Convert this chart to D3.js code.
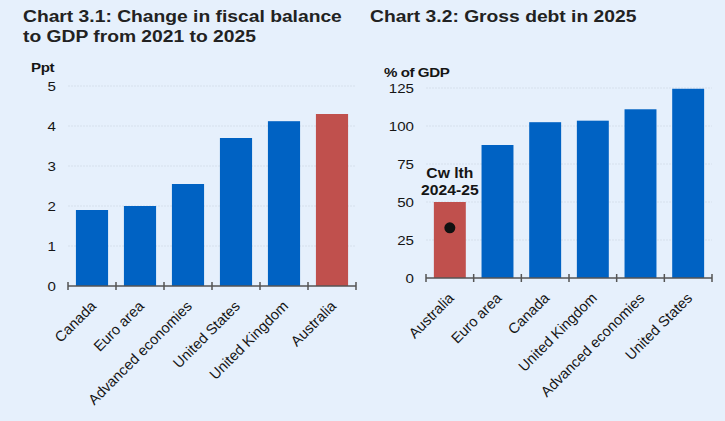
<!DOCTYPE html>
<html lang="en">
<head>
    <meta charset="UTF-8">
    <title>Fiscal balance and gross debt</title>
    <style>
        body { margin: 0; background: #e6f0fc; }
        svg { display: block; font-family: "Liberation Sans", Arial, sans-serif; }
    </style>
</head>
<body>
    <svg id="container" width="725" height="421"></svg>

<script src="https://cdn.jsdelivr.net/npm/d3@7/dist/d3.min.js"></script>
<script>
    // chart 3.1 data
    let fiscalCats = ["Canada", "Euro area", "Advanced economies", "United States", "United Kingdom", "Australia"]
    let fiscalVals = [1.9, 2.0, 2.55, 3.7, 4.12, 4.3]
    let fiscalTicks = [0, 1, 2, 3, 4, 5]

    // chart 3.2 data
    let debtCats = ["Australia", "Euro area", "Canada", "United Kingdom", "Advanced economies", "United States"]
    let debtVals = [50, 87.5, 102.5, 103.5, 111, 124.5]
    let debtTicks = [0, 25, 50, 75, 100, 125]
    let cwlthVal = 33

    let blue = "#0062c3"
    let red = "#c0504d"
    let ink = "#151515"
    let stretch = 1.12   // source text is a bit wide
    let svg = d3.select("#container")

    // text placed at a point, widened horizontally around that point
    function wideText(sel, xf, yf) {
        return sel.attr("transform", (d, i) => `translate(${xf(d, i)},${yf(d, i)}) scale(${stretch},1)`)
    }

    function drawChart(opt) {
        let g = svg.append("g")

        let x = d3.scaleBand()
            .domain(opt.cats)
            .range(opt.xRange)
            .paddingInner(0.33)
            .paddingOuter(0.165)

        let y = d3.scaleLinear()
            .domain([0, opt.ticks[opt.ticks.length - 1]])
            .range(opt.yRange)

        // gridlines
        g.selectAll(".grid").data(opt.ticks.slice(1))
            .enter().append("line")
            .attr("x1", opt.xRange[0]).attr("x2", opt.xRange[1])
            .attr("y1", d => y(d)).attr("y2", d => y(d))
            .attr("stroke", "#d5dfeb")
            .attr("stroke-width", 1.2)
            .attr("stroke-dasharray", "2,1")

        // y tick labels
        wideText(g.selectAll(".ylab").data(opt.ticks).enter().append("text"),
                d => opt.xRange[0] - 12, d => y(d) + 5)
            .attr("text-anchor", "end")
            .attr("font-size", 13.5)
            .attr("fill", ink)
            .text(d => d)

        // unit label
        wideText(g.append("text").datum(opt.unit), () => opt.unitX, () => opt.unitY)
            .attr("font-size", 13.5)
            .attr("font-weight", "bold")
            .attr("letter-spacing", -0.4)
            .attr("fill", ink)
            .text(d => d)

        // bars
        g.selectAll(".bar").data(opt.vals)
            .enter().append("rect")
            .attr("x", (d, i) => x(opt.cats[i]))
            .attr("y", d => y(d))
            .attr("width", x.bandwidth())
            .attr("height", d => y(0) - y(d))
            .attr("fill", (d, i) => opt.cats[i] == "Australia" ? red : blue)

        // axis line and ticks at category boundaries
        let y0 = y(0)
        g.append("line")
            .attr("x1", opt.xRange[0]).attr("x2", opt.xRange[1])
            .attr("y1", y0).attr("y2", y0)
            .attr("stroke", "#555").attr("stroke-width", 1.5)
        g.selectAll(".tick").data(d3.range(opt.cats.length + 1))
            .enter().append("line")
            .attr("x1", i => opt.xRange[0] + i * x.step())
            .attr("x2", i => opt.xRange[0] + i * x.step())
            .attr("y1", y0 - 4).attr("y2", y0 + 4)
            .attr("stroke", "#555").attr("stroke-width", 1.5)

        // rotated category labels
        g.selectAll(".xlab").data(opt.cats)
            .enter().append("text")
            .attr("transform", d => `translate(${x(d) + x.bandwidth() / 2 + 5},${y0 + 21}) rotate(-45)`)
            .attr("text-anchor", "end")
            .attr("font-size", 14.6)
            .attr("fill", ink)
            .text(d => d)

        return {x, y, g}
    }

    // titles
    let titles = [
        {x: 23, y: 22, t: "Chart 3.1: Change in fiscal balance"},
        {x: 23, y: 42, t: "to GDP from 2021 to 2025"},
        {x: 370, y: 22, t: "Chart 3.2: Gross debt in 2025"}
    ]
    wideText(svg.selectAll(".title").data(titles).enter().append("text"), d => d.x, d => d.y)
        .attr("font-size", 17.2)
        .attr("font-weight", "bold")
        .attr("fill", "#222")
        .text(d => d.t)

    drawChart({
        cats: fiscalCats, vals: fiscalVals, ticks: fiscalTicks,
        xRange: [68, 356], yRange: [286, 86],
        unit: "Ppt", unitX: 31, unitY: 72
    })

    let right = drawChart({
        cats: debtCats, vals: debtVals, ticks: debtTicks,
        xRange: [426, 712], yRange: [278, 88],
        unit: "% of GDP", unitX: 384, unitY: 77
    })

    // Commonwealth marker on the Australia bar
    let cx = right.x("Australia") + right.x.bandwidth() / 2
    right.g.append("circle")
        .attr("cx", cx).attr("cy", right.y(cwlthVal))
        .attr("r", 5.5)
        .attr("fill", "#111")
    wideText(right.g.selectAll(".ann").data(["Cw lth", "2024-25"]).enter().append("text"),
            () => cx, (d, i) => 178 + i * 17)
        .attr("text-anchor", "middle")
        .attr("font-size", 14)
        .attr("font-weight", "bold")
        .attr("fill", ink)
        .text(d => d)
</script>
</body>
</html>
